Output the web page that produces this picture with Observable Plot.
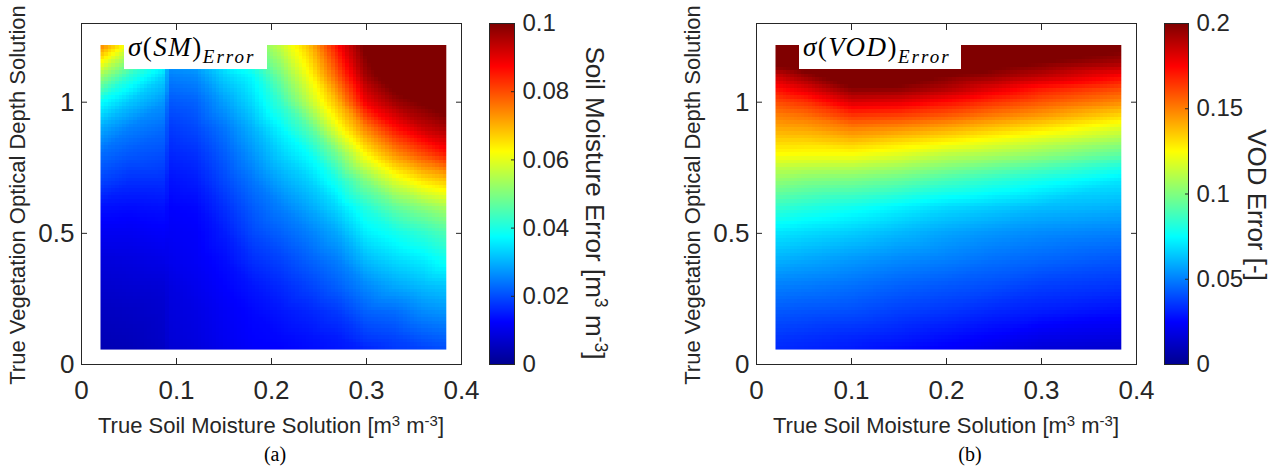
<!DOCTYPE html>
<html><head><meta charset="utf-8">
<script src="https://cdn.jsdelivr.net/npm/d3@7"></script>
<script src="https://cdn.jsdelivr.net/npm/@observablehq/plot@0.6"></script>
<style>
html,body{margin:0;padding:0;background:#fff;}
#root{position:relative;width:1281px;height:470px;overflow:hidden;font-family:"Liberation Sans",Arial,sans-serif;color:#262626;}
#root svg{position:absolute;top:0;}
.ttl{position:absolute;white-space:nowrap;font-size:22px;line-height:22px;}
.cbl{position:absolute;white-space:nowrap;font-size:26px;line-height:26px;}
.cap{position:absolute;white-space:nowrap;font-family:"Liberation Serif","Times New Roman",serif;font-size:20px;line-height:20px;color:#000;}
sup{font-size:0.68em;line-height:0;position:relative;top:-0.5em;vertical-align:baseline;}
.lbl{position:absolute;background:#fff;height:36px;top:33px;}
.lbl .m{position:absolute;left:4px;top:1px;white-space:nowrap;font-family:"Liberation Serif","Times New Roman",serif;font-size:27px;line-height:26px;color:#000;letter-spacing:1.5px;}
.lbl i{font-style:italic;}
.lbl .s{font-size:19px;font-style:italic;position:relative;top:7px;letter-spacing:2px;}
</style></head><body><div id="root"></div>
<script>
// ---- data ----
const xTicks = [0, 0.1, 0.2, 0.3, 0.4];
const yTicks = [0, 0.5, 1];
const smBarTicks = [0, 0.02, 0.04, 0.06, 0.08, 0.1];
const vodBarTicks = [0, 0.05, 0.1, 0.15, 0.2];

// (a) soil moisture error: columns at smX, each listing values at smY (bottom to top)
const smX = [0.02, 0.05, 0.088, 0.092, 0.12, 0.15, 0.18, 0.21, 0.24, 0.27, 0.30, 0.33, 0.36, 0.384];
const smY = [0.057, 0.1, 0.2, 0.3, 0.4, 0.5, 0.6, 0.7, 0.8, 0.9, 1.0, 1.1, 1.218];
const smError = [
  [0.004, 0.0045, 0.0055, 0.007, 0.0085, 0.011, 0.014, 0.019, 0.023, 0.029, 0.038, 0.053, 0.075],
  [0.0045, 0.005, 0.006, 0.0075, 0.009, 0.011, 0.0135, 0.017, 0.021, 0.025, 0.032, 0.042, 0.060],
  [0.006, 0.0065, 0.007, 0.008, 0.010, 0.012, 0.014, 0.017, 0.020, 0.023, 0.027, 0.033, 0.045],
  [0.0075, 0.008, 0.0085, 0.009, 0.0105, 0.0115, 0.0125, 0.014, 0.016, 0.018, 0.021, 0.025, 0.030],
  [0.0085, 0.009, 0.0095, 0.0105, 0.0115, 0.012, 0.013, 0.015, 0.017, 0.0195, 0.022, 0.026, 0.032],
  [0.0105, 0.011, 0.0115, 0.0125, 0.0135, 0.015, 0.017, 0.0195, 0.0215, 0.024, 0.028, 0.033, 0.040],
  [0.012, 0.0125, 0.013, 0.0145, 0.017, 0.0195, 0.0215, 0.024, 0.027, 0.030, 0.034, 0.0375, 0.048],
  [0.0125, 0.013, 0.0145, 0.0165, 0.019, 0.022, 0.025, 0.029, 0.033, 0.037, 0.043, 0.049, 0.057],
  [0.0135, 0.014, 0.016, 0.019, 0.022, 0.025, 0.029, 0.033, 0.038, 0.046, 0.056, 0.062, 0.069],
  [0.0145, 0.015, 0.018, 0.022, 0.025, 0.029, 0.034, 0.040, 0.049, 0.061, 0.070, 0.079, 0.087],
  [0.016, 0.018, 0.022, 0.026, 0.031, 0.036, 0.041, 0.050, 0.063, 0.075, 0.089, 0.097, 0.102],
  [0.018, 0.019, 0.023, 0.029, 0.034, 0.039, 0.047, 0.059, 0.073, 0.086, 0.097, 0.105, 0.110],
  [0.019, 0.021, 0.026, 0.031, 0.036, 0.042, 0.051, 0.065, 0.080, 0.093, 0.101, 0.110, 0.120],
  [0.020, 0.022, 0.027, 0.032, 0.039, 0.045, 0.054, 0.068, 0.085, 0.096, 0.104, 0.115, 0.125]
];

// (b) VOD error
const vodX = [0.02, 0.05, 0.1, 0.15, 0.2, 0.25, 0.3, 0.384];
const vodY = [0.057, 0.1, 0.2, 0.3, 0.4, 0.5, 0.6, 0.7, 0.75, 0.8, 0.85, 0.9, 0.95, 1.0, 1.05, 1.1, 1.15, 1.218];
const vodError = [
  [0.033, 0.035, 0.042, 0.050, 0.060, 0.070, 0.085, 0.103, 0.112, 0.125, 0.133, 0.142, 0.150, 0.160, 0.172, 0.185, 0.205, 0.220],
  [0.032, 0.034, 0.041, 0.049, 0.058, 0.068, 0.082, 0.100, 0.111, 0.124, 0.133, 0.143, 0.153, 0.165, 0.180, 0.195, 0.210, 0.220],
  [0.030, 0.032, 0.040, 0.047, 0.055, 0.065, 0.078, 0.098, 0.110, 0.124, 0.137, 0.150, 0.165, 0.182, 0.198, 0.210, 0.220, 0.230],
  [0.027, 0.030, 0.037, 0.044, 0.052, 0.061, 0.073, 0.094, 0.106, 0.119, 0.132, 0.147, 0.163, 0.180, 0.197, 0.210, 0.220, 0.230],
  [0.024, 0.027, 0.035, 0.042, 0.050, 0.057, 0.068, 0.088, 0.100, 0.112, 0.127, 0.142, 0.158, 0.173, 0.190, 0.200, 0.215, 0.225],
  [0.020, 0.024, 0.032, 0.040, 0.047, 0.054, 0.065, 0.083, 0.095, 0.108, 0.121, 0.136, 0.151, 0.165, 0.180, 0.195, 0.205, 0.215],
  [0.016, 0.020, 0.030, 0.037, 0.045, 0.052, 0.062, 0.078, 0.090, 0.103, 0.115, 0.130, 0.145, 0.158, 0.170, 0.188, 0.200, 0.210],
  [0.014, 0.018, 0.027, 0.035, 0.042, 0.050, 0.060, 0.070, 0.080, 0.093, 0.105, 0.118, 0.133, 0.148, 0.160, 0.175, 0.192, 0.205]
];

// ---- jet colormap ----
const jetStops = [0, 0.125, 0.375, 0.625, 0.875, 1];
const jetColors = ["#00008f", "#0000ff", "#00ffff", "#ffff00", "#ff0000", "#800000"];
const jet = (cmax) => ({type: "linear", domain: jetStops.map(t => t * cmax), range: jetColors, clamp: true, interpolate: "rgb"});

const root = document.getElementById("root");
const AX = "#262626";
const baseStyle = {fontFamily: '"Liberation Sans", Arial, sans-serif', fontSize: "26px", color: AX, background: "transparent", overflow: "visible", maxWidth: "none"};

function panel(xs, ys, vals, cmax, left) {
  const pts = [];
  xs.forEach((x, i) => ys.forEach((y, j) => pts.push({x, y, v: vals[i][j]})));
  const svg = Plot.plot({
    width: 480, height: 470,
    marginLeft: 81, marginRight: 19, marginTop: 23, marginBottom: 106,
    x: {domain: [0, 0.4]}, y: {domain: [0, 1.3]},
    color: jet(cmax),
    style: baseStyle,
    marks: [
      Plot.raster(pts, {x: "x", y: "y", fill: "v", x1: 0.02, x2: 0.384, y1: 0.057, y2: 1.218,
        interpolate: "barycentric", pixelSize: 3.6, imageRendering: "pixelated"}),
      Plot.frame({stroke: AX}),
      Plot.axisX({ticks: xTicks, tickFormat: d => String(d), tickSize: -6, tickPadding: 22, label: null, stroke: AX}),
      Plot.axisX({anchor: "top", ticks: xTicks, tickFormat: () => "", tickSize: -6, label: null, stroke: AX}),
      Plot.axisY({ticks: yTicks, tickFormat: d => String(d), tickSize: -6, tickPadding: 13, label: null, stroke: AX}),
      Plot.axisY({anchor: "right", ticks: yTicks, tickFormat: () => "", tickSize: -6, label: null, stroke: AX})
    ]
  });
  svg.style.left = left + "px";
  root.appendChild(svg);
}

function colorbar(cmax, ticks, left, barW) {
  const svg = Plot.plot({
    width: 110, height: 470,
    marginLeft: 10, marginRight: 100 - barW, marginTop: 23, marginBottom: 106,
    x: {domain: [0, 1], axis: null}, y: {domain: [0, cmax]},
    color: jet(cmax),
    style: {...baseStyle, fontSize: "24px"},
    marks: [
      Plot.raster({x1: 0, x2: 1, y1: 0, y2: cmax, fill: (x, y) => y}),
      Plot.frame({stroke: AX}),
      Plot.axisY({anchor: "right", ticks, tickFormat: d => String(d), tickSize: -4, tickPadding: 12, label: null, stroke: AX})
    ]
  });
  svg.style.left = left + "px";
  root.appendChild(svg);
}

panel(smX, smY, smError, 0.1, 0);
colorbar(0.1, smBarTicks, 479, 25);
panel(vodX, vodY, vodError, 0.2, 675);
colorbar(0.2, vodBarTicks, 1154, 24);

function addHTML(html) { root.insertAdjacentHTML("beforeend", html); }
const xTitle = 'True Soil Moisture Solution [m<sup>3</sup> m<sup>-3</sup>]';
const yTitle = 'True Vegetation Optical Depth Solution';
addHTML(`<div class="ttl" style="left:271px;top:415px;transform:translateX(-50%)">${xTitle}</div>`);
addHTML(`<div class="ttl" style="left:946px;top:415px;transform:translateX(-50%)">${xTitle}</div>`);
addHTML(`<div class="ttl" style="left:18px;top:195px;transform:translate(-50%,-50%) rotate(-90deg)">${yTitle}</div>`);
addHTML(`<div class="ttl" style="left:693px;top:195px;transform:translate(-50%,-50%) rotate(-90deg)">${yTitle}</div>`);
addHTML(`<div class="cbl" style="left:595px;top:203px;transform:translate(-50%,-50%) rotate(90deg)">Soil Moisture Error [m<sup>3</sup> m<sup>-3</sup>]</div>`);
addHTML(`<div class="cbl" style="left:1257px;top:205px;transform:translate(-50%,-50%) rotate(90deg)">VOD Error [-]</div>`);
addHTML(`<div class="cap" style="left:275px;top:444px;transform:translateX(-50%)">(a)</div>`);
addHTML(`<div class="cap" style="left:970px;top:444px;transform:translateX(-50%)">(b)</div>`);
addHTML(`<div class="lbl" style="left:124px;width:143px"><span class="m"><i>σ</i>(<i>SM</i>)<span class="s">Error</span></span></div>`);
addHTML(`<div class="lbl" style="left:799px;width:162px"><span class="m"><i>σ</i>(<i>VOD</i>)<span class="s">Error</span></span></div>`);
</script></body></html>
